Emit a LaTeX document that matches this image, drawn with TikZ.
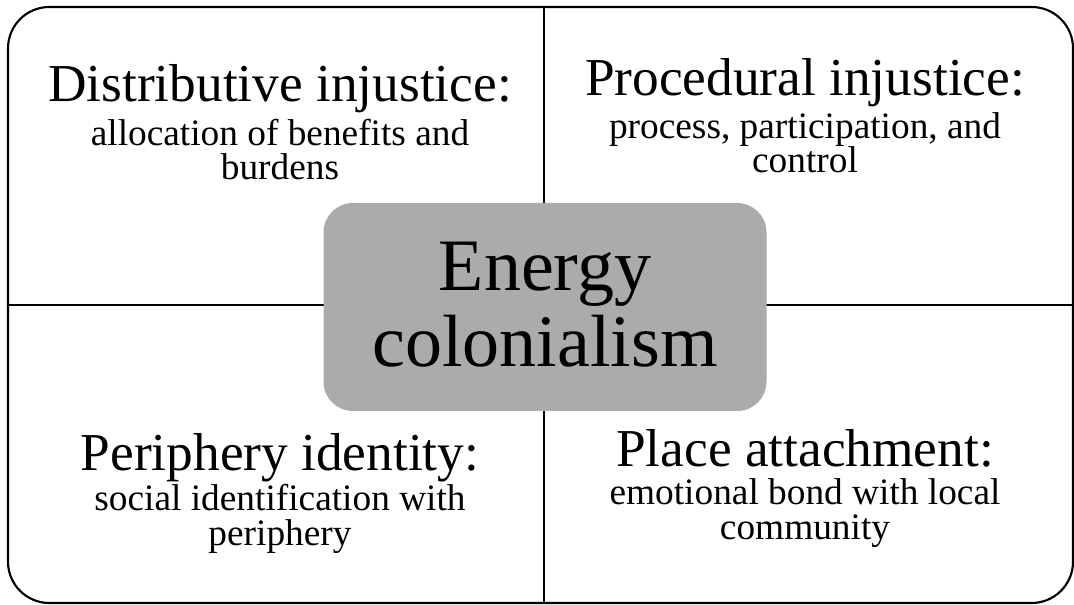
\documentclass[tikz,border=0pt]{standalone}
\usepackage{fontspec}
\setmainfont{Liberation Serif}
\definecolor{hubgray}{RGB}{171,171,171}
\begin{document}
\begin{tikzpicture}[x=0.75pt,y=-0.75pt,
  frame/.style={line width=1.6pt,rounded corners=31pt},
  divider/.style={line width=1.6pt},
  hub/.style={fill=hubgray,draw=none,rounded corners=22pt},
  title/.style={anchor=base,inner sep=0pt,font=\fontsize{40}{44}\selectfont},
  sub/.style={anchor=base,inner sep=0pt,font=\fontsize{28}{30}\selectfont},
  hubtext/.style={anchor=base,inner sep=0pt,font=\fontsize{55.5}{60}\selectfont}]
\useasboundingbox (0,0) rectangle (1074,605);

% outer frame and the two dividing lines
\draw[frame] (8,7) rectangle (1073,603);
\coordinate (vtop) at (544,7);
\coordinate (vbot) at (544,603);
\coordinate (hleft) at (8,305);
\coordinate (hright) at (1073,305);
\draw[divider] (vtop) -- (vbot);
\draw[divider] (hleft) -- (hright);

% central box
\node[hub,minimum width=443*0.75pt,minimum height=208*0.75pt] (hub) at (545,307) {};
\node[hubtext] (hub1) at (545,291) {Energy};
\node[hubtext] (hub2) at (545,367) {colonialism};

% top left
\node[title] (dt) at (280,102) {Distributive injustice:};
\node[sub] (ds1) at (280,146) {allocation of benefits and};
\node[sub] (ds2) at (280,180) {burdens};

% top right
\node[title] (pt) at (805,96) {Procedural injustice:};
\node[sub] (ps1) at (805,139) {process, participation, and};
\node[sub] (ps2) at (805,173) {control};

% bottom left
\node[title] (it) at (280,470) {Periphery identity:};
\node[sub] (is1) at (280,510) {social identification with};
\node[sub] (is2) at (280,545) {periphery};

% bottom right
\node[title] (at) at (805,466) {Place attachment:};
\node[sub] (as1) at (805,504) {emotional bond with local};
\node[sub] (as2) at (805,539) {community};
\end{tikzpicture}
\end{document}
